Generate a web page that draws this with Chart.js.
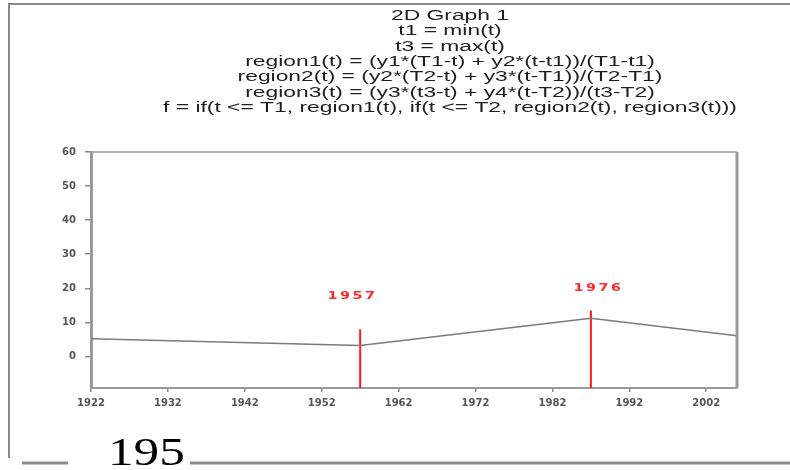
<!DOCTYPE html>
<html>
<head>
<meta charset="utf-8">
<title>2D Graph 1</title>
<script src="https://cdn.jsdelivr.net/npm/chart.js@4/dist/chart.umd.min.js"></script>
<style>
  html, body { margin: 0; padding: 0; background: #ffffff; }
  #wrap { width: 790px; height: 470px; position: relative; }
</style>
</head>
<body>
<div id="wrap"><canvas id="chart" width="790" height="470"></canvas></div>
<script>
// Piecewise-linear fit f(t): breakpoints and end values
const years = [1922, 1957, 1987, 2006];
const fitValues = [5.2, 3.2, 11.2, 6.1];

// Vertical breakpoint markers (drawn from the axis floor up to a height)
const markerYears = [1957, 1987];
const markerTops = [8, 13.5];
const markerLabels = ['1957', '1976'];
const markerLabelX = [1956.0, 1988.0];
const markerLabelY = [17.8, 20.1];

// Axis ticks
const xTicks = [1922, 1932, 1942, 1952, 1962, 1972, 1982, 1992, 2002];
const yTicks = [0, 10, 20, 30, 40, 50, 60];
const xRange = [1922, 2006];
const yRange = [-9.25, 60];

const titleLines = [
  '2D Graph 1',
  't1 = min(t)',
  't3 = max(t)',
  'region1(t) = (y1*(T1-t) + y2*(t-t1))/(T1-t1)',
  'region2(t) = (y2*(T2-t) + y3*(t-T1))/(T2-T1)',
  'region3(t) = (y3*(t3-t) + y4*(t-T2))/(t3-T2)',
  'f = if(t <= T1, region1(t), if(t <= T2, region2(t), region3(t)))'
];
const footText = '195';

const fitData = years.map((t, i) => ({ x: t, y: fitValues[i] }));
const markerSets = markerYears.map((t, i) => ({
  data: [{ x: t, y: yRange[0] }, { x: t, y: markerTops[i] }],
  borderColor: '#ff1a1a',
  borderWidth: 2,
  pointRadius: 0,
  tension: 0
}));

// text drawn with a horizontal stretch factor around its anchor point
function wideText(ctx, s, x, y, sx) {
  ctx.save();
  ctx.translate(x, y);
  ctx.scale(sx, 1);
  ctx.fillText(s, 0, 0);
  ctx.restore();
}

const framePlugin = {
  id: 'frame',
  beforeDraw(chart) {
    const ctx = chart.ctx;
    ctx.save();
    ctx.fillStyle = '#ffffff';
    ctx.fillRect(0, 0, chart.width, chart.height);
    // page frame
    ctx.strokeStyle = '#8a8a8a';
    ctx.lineWidth = 2;
    ctx.beginPath();
    ctx.moveTo(8, 4); ctx.lineTo(790, 4);
    ctx.moveTo(9, 4); ctx.lineTo(9, 458);
    ctx.stroke();
    ctx.lineWidth = 3;
    ctx.beginPath();
    ctx.moveTo(22, 463); ctx.lineTo(68, 463);
    ctx.moveTo(190, 463); ctx.lineTo(790, 463);
    ctx.stroke();
    // title block
    ctx.fillStyle = '#1e1e1e';
    ctx.font = '14px "Liberation Sans", Arial, sans-serif';
    ctx.textAlign = 'center';
    ctx.textBaseline = 'middle';
    titleLines.forEach((s, i) => wideText(ctx, s, 450, 16 + i * 15.4, 1.63));
    // footer number
    ctx.font = '40px "Liberation Serif", "Times New Roman", serif';
    ctx.fillStyle = '#000000';
    ctx.textAlign = 'left';
    ctx.textBaseline = 'alphabetic';
    wideText(ctx, footText, 108, 465, 1.28);
    ctx.restore();
  },
  afterDatasetsDraw(chart) {
    const ctx = chart.ctx;
    const a = chart.chartArea;
    const xs = chart.scales.x, ys = chart.scales.y;
    ctx.save();
    // top and right edges of the plot box
    ctx.strokeStyle = '#9a9a9a';
    ctx.lineWidth = 1.5;
    ctx.beginPath();
    ctx.moveTo(a.left, a.top); ctx.lineTo(a.right, a.top);
    ctx.stroke();
    ctx.lineWidth = 3;
    ctx.beginPath();
    ctx.moveTo(a.right, a.top); ctx.lineTo(a.right, a.bottom);
    ctx.stroke();
    // marker labels
    ctx.fillStyle = '#ff2a2a';
    ctx.font = 'bold 11px "DejaVu Sans", sans-serif';
    ctx.textAlign = 'center';
    ctx.textBaseline = 'middle';
    if ('letterSpacing' in ctx) ctx.letterSpacing = '2px';
    markerLabels.forEach((s, i) => {
      wideText(ctx, s, xs.getPixelForValue(markerLabelX[i]), ys.getPixelForValue(markerLabelY[i]), 1.3);
    });
    ctx.restore();
  }
};

const tickFont = { family: '"DejaVu Sans", sans-serif', size: 10, weight: 'bold' };

new Chart(document.getElementById('chart'), {
  type: 'line',
  data: {
    datasets: [
      {
        data: fitData,
        borderColor: '#7a7a7a',
        borderWidth: 1.5,
        pointRadius: 0,
        tension: 0
      },
      ...markerSets
    ]
  },
  options: {
    responsive: false,
    animation: false,
    events: [],
    layout: { padding: { left: 0, right: 53, top: 152, bottom: 0 } },
    plugins: { legend: { display: false }, tooltip: { enabled: false }, title: { display: false } },
    scales: {
      x: {
        type: 'linear',
        min: xRange[0],
        max: xRange[1],
        afterBuildTicks: s => { s.ticks = xTicks.map(v => ({ value: v })); },
        afterFit: s => { s.height = 82; },
        ticks: { font: tickFont, color: '#555555', maxRotation: 0, autoSkip: false, padding: 5,
                 callback: v => String(v) },
        grid: { drawOnChartArea: false, drawTicks: true, tickLength: 4, color: '#8a8a8a', lineWidth: 1.5 },
        border: { color: '#9a9a9a', width: 2 }
      },
      y: {
        type: 'linear',
        min: yRange[0],
        max: yRange[1],
        afterBuildTicks: s => { s.ticks = yTicks.map(v => ({ value: v })); },
        afterFit: s => { s.width = 91; },
        ticks: { font: tickFont, color: '#555555', padding: 9, callback: v => String(v) },
        grid: { drawOnChartArea: false, drawTicks: true, tickLength: 6, color: '#8a8a8a', lineWidth: 1.5 },
        border: { color: '#9a9a9a', width: 3 }
      }
    }
  },
  plugins: [framePlugin]
});
</script>
</body>
</html>
